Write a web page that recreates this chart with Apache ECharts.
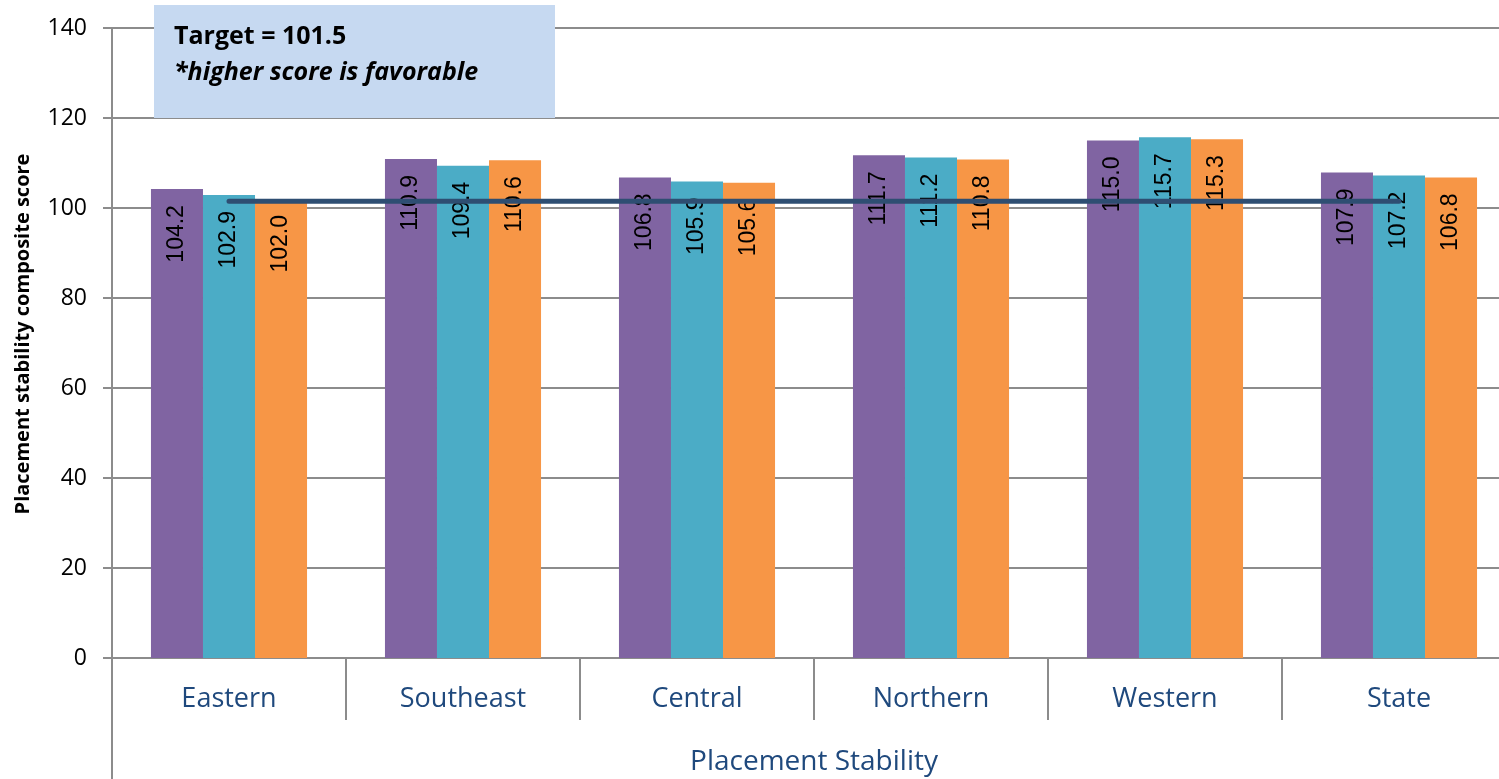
<!DOCTYPE html>
<html>
<head>
<meta charset="utf-8">
<script src="https://cdn.jsdelivr.net/npm/echarts@6/dist/echarts.min.js"></script>
<style>
html,body{margin:0;padding:0;background:#fff;overflow:hidden;}
#chart{width:1499px;height:779px;}
</style>
</head>
<body>
<div id="chart"></div>
<script>
const categories = ['Eastern', 'Southeast', 'Central', 'Northern', 'Western', 'State'];
const series1 = [104.2, 110.9, 106.8, 111.7, 115.0, 107.9];
const series2 = [102.9, 109.4, 105.9, 111.2, 115.7, 107.2];
const series3 = [102.0, 110.6, 105.6, 110.8, 115.3, 106.8];
const targetValues = [101.5, 101.5, 101.5, 101.5, 101.5, 101.5];
const yTicks = { min: 0, max: 140, interval: 20 };

const chart = echarts.init(document.getElementById('chart'));
const grey = '#8c8c8c';
const barLabel = {
  show: true,
  position: 'insideTop',
  rotate: 90,
  align: 'right',
  verticalAlign: 'middle',
  distance: 16,
  fontSize: 23,
  fontFamily: 'Liberation Sans',
  color: '#000',
  formatter: p => p.value.toFixed(1)
};
function barSeries(name, data, color) {
  return {
    name, type: 'bar', data, barGap: '0%', barCategoryGap: '33.3%',
    itemStyle: { color },
    label: barLabel
  };
}
chart.setOption({
  animation: false,
  grid: { left: 112, width: 1404, top: 28, bottom: 121, containLabel: false, outerBoundsMode: 'none' },
  xAxis: {
    type: 'category',
    data: categories,
    name: 'Placement Stability',
    nameLocation: 'middle',
    nameGap: 90,
    nameTextStyle: { fontSize: 28, color: '#1F497D', fontFamily: 'Open Sans' },
    axisLine: { lineStyle: { color: grey, width: 2 } },
    axisTick: { show: true, interval: 0, length: 62, alignWithLabel: false, lineStyle: { color: grey, width: 2 } },
    axisLabel: { fontSize: 27, color: '#1F497D', fontFamily: 'Open Sans', margin: 28, interval: 0 }
  },
  yAxis: {
    type: 'value',
    min: yTicks.min, max: yTicks.max, interval: yTicks.interval,
    axisLine: { show: true, lineStyle: { color: grey, width: 2 } },
    axisTick: { show: true, length: 9, lineStyle: { color: grey, width: 2 } },
    axisLabel: { fontSize: 23, color: '#000', fontFamily: 'Open Sans', margin: 25 },
    splitLine: { lineStyle: { color: grey, width: 2 } }
  },
  series: [
    barSeries('Series 1', series1, '#8064A2'),
    barSeries('Series 2', series2, '#4BACC6'),
    barSeries('Series 3', series3, '#F79646'),
    {
      name: 'Target', type: 'line', data: targetValues, symbol: 'none', z: 5,
      lineStyle: { color: '#2E4E72', width: 5, cap: 'round' }
    }
  ],
  graphic: [
    { type: 'line', z: 50, shape: { x1: 112, y1: 658, x2: 112, y2: 779 }, style: { stroke: grey, lineWidth: 2 } },
    { type: 'text', z: 101, x: 23, y: 334, rotation: Math.PI / 2,
      style: { text: 'Placement stability composite score', font: 'bold 20px "Open Sans"', fill: '#000', align: 'center', verticalAlign: 'middle' } },
    { type: 'rect', z: 100, shape: { x: 154, y: 5, width: 401, height: 113 }, style: { fill: '#C6D9F1' } },
    { type: 'text', z: 101, left: 174, top: 24, style: { text: 'Target = 101.5', font: 'bold 25px "Open Sans"', fill: '#000' } },
    { type: 'text', z: 101, left: 174, top: 60, style: { text: '*higher score is favorable', font: 'italic bold 25px "Open Sans"', fill: '#000' } }
  ]
});
</script>
</body>
</html>
